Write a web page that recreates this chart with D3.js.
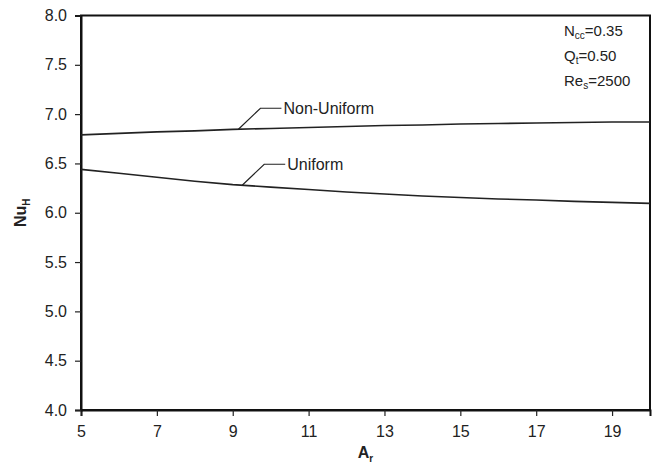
<!DOCTYPE html>
<html>
<head>
<meta charset="utf-8">
<script src="https://cdn.jsdelivr.net/npm/d3@7"></script>
<style>
  body { margin: 0; background: #fff; }
  svg text { font-family: Arial, "Liberation Sans", sans-serif; fill: #222; }
</style>
</head>
<body>
<svg id="graphique" width="654" height="464"></svg>
<script>
// === Données ===
const rapportsAr = [5, 6, 7, 8, 9, 10, 11, 12, 13, 14, 15, 16, 17, 18, 19, 20];
const nuNonUniforme = [6.79, 6.805, 6.82, 6.83, 6.845, 6.855, 6.865, 6.875, 6.885, 6.89, 6.90, 6.905, 6.91, 6.915, 6.92, 6.92];
const nuUniforme = [6.44, 6.40, 6.36, 6.32, 6.285, 6.26, 6.235, 6.21, 6.19, 6.17, 6.155, 6.14, 6.13, 6.115, 6.105, 6.095];
const nomsSeries = ["Non-Uniform", "Uniform"];
const ticksX = [5, 7, 9, 11, 13, 15, 17, 19];
const ticksY = [4.0, 4.5, 5.0, 5.5, 6.0, 6.5, 7.0, 7.5, 8.0];
const parametres = [
  { base: "N", indice: "cc", valeur: "=0.35" },
  { base: "Q", indice: "t", valeur: "=0.50" },
  { base: "Re", indice: "s", valeur: "=2500" }
];

const marge = { haut: 15.5, droite: 4, bas: 54, gauche: 81 };
const largeur = 654, hauteur = 464;

const svg = d3.select("#graphique");

const x = d3.scaleLinear().domain([5, 20]).range([marge.gauche, largeur - marge.droite]);
const y = d3.scaleLinear().domain([4, 8]).range([hauteur - marge.bas, marge.haut]);

// cadre du graphique
svg.append("rect")
  .attr("x", x(5)).attr("y", y(8))
  .attr("width", x(20) - x(5)).attr("height", y(4) - y(8))
  .attr("fill", "none").attr("stroke", "#111").attr("stroke-width", 2);

// axes
const axeX = svg.append("g")
  .attr("transform", `translate(0,${y(4)})`)
  .call(d3.axisBottom(x).tickValues(ticksX).tickSize(6).tickPadding(10).tickFormat(d3.format("d")));
const axeY = svg.append("g")
  .attr("transform", `translate(${x(5)},0)`)
  .call(d3.axisLeft(y).tickValues(ticksY).tickSize(6).tickPadding(8).tickFormat(d3.format(".1f")));

[axeX, axeY].forEach(a => {
  a.select(".domain").attr("stroke", "#111").attr("stroke-width", 2);
  a.selectAll(".tick line").attr("stroke", "#222").attr("stroke-width", 1.2);
  a.selectAll(".tick text").style("font-size", "16px").attr("fill", "#222");
});

// courbes
const series = [nuNonUniforme, nuUniforme];
const ligne = d3.line()
  .x((d, i) => x(rapportsAr[i]))
  .y(d => y(d));

svg.selectAll("path.serie")
  .data(series)
  .enter()
  .append("path")
  .attr("class", "serie")
  .attr("d", ligne)
  .attr("fill", "none")
  .attr("stroke", "#222")
  .attr("stroke-width", 1.6);

// étiquettes des courbes avec trait de rappel
const ancreX = [9.15, 9.25];
series.forEach((vals, k) => {
  const ax = ancreX[k];
  const ay = d3.scaleLinear().domain(rapportsAr).range(vals)(ax);
  const px = x(ax), py = y(ay);
  svg.append("polyline")
    .attr("points", [[px, py], [px + 22, py - 21], [px + 43, py - 21]].map(p => p.join(",")).join(" "))
    .attr("fill", "none").attr("stroke", "#222").attr("stroke-width", 1.2);
  svg.append("text")
    .attr("x", px + 45).attr("y", py - 21)
    .attr("dy", "0.35em")
    .style("font-size", "16px")
    .text(nomsSeries[k]);
});

// titres des axes
const titreX = svg.append("text")
  .attr("x", (x(5) + x(20)) / 2).attr("y", 458)
  .attr("text-anchor", "middle")
  .style("font-size", "16px").style("font-weight", "bold");
titreX.append("tspan").text("A");
titreX.append("tspan").attr("dy", 4).style("font-size", "10px").text("r");

const titreY = svg.append("text")
  .attr("transform", `translate(26,${(y(4) + y(8)) / 2}) rotate(-90)`)
  .attr("text-anchor", "middle")
  .style("font-size", "16px").style("font-weight", "bold");
titreY.append("tspan").text("Nu");
titreY.append("tspan").attr("dy", 4).style("font-size", "10px").text("H");

// paramètres en haut à droite
parametres.forEach((p, i) => {
  const t = svg.append("text")
    .attr("x", 564).attr("y", 36 + i * 25)
    .style("font-size", "15px");
  t.append("tspan").text(p.base);
  t.append("tspan").attr("dy", 3).style("font-size", "10px").text(p.indice);
  t.append("tspan").attr("dy", -3).text(p.valeur);
});
</script>
</body>
</html>
